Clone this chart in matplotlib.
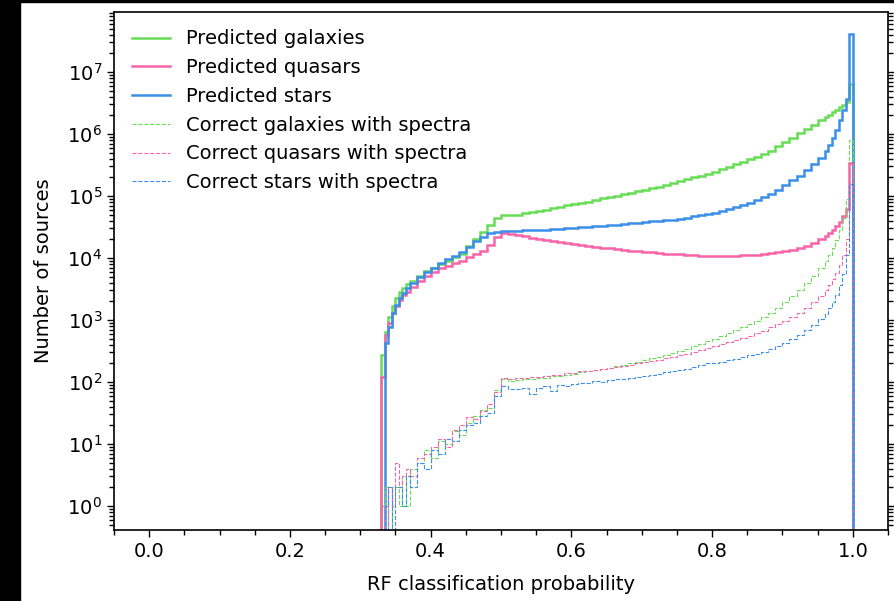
import numpy as np
import matplotlib
matplotlib.use("Agg")
import matplotlib.pyplot as plt
from matplotlib.lines import Line2D
from matplotlib.patches import Rectangle
from matplotlib.ticker import AutoMinorLocator

# bin edges: fine near 1/3 and near 1, coarser in between
edges = np.round(np.concatenate([np.linspace(0.33, 0.365, 8),
                                 np.linspace(0.37, 0.95, 59),
                                 np.linspace(0.96, 1.0, 9)]), 3)

# predicted classes (solid)
gal_pred = [270, 650, 1100, 1700, 2300, 2800, 3300, 3800,
            4300, 5200, 6100, 7000, 8000, 9000, 10200, 11800, 15500, 20000, 26000, 34000, 44000, 48500, 50000,
            50100, 52500, 55000, 57500, 60300, 63100, 67600, 70800, 74100, 77600, 81300, 85100, 91200, 95500,
            100000, 107000, 112000, 120000, 126000, 135000, 141000, 151000, 162000, 174000, 186000, 200000,
            214000, 229000, 245000, 269000, 295000, 324000, 355000, 389000, 427000, 479000, 537000, 631000,
            741000, 871000, 1020000, 1200000, 1410000, 1660000,
            1860000, 2040000, 2240000, 2450000, 2690000, 2950000, 3310000, 6300000]
qso_pred = [120, 570, 900, 1300, 1700, 2100, 2500, 2800,
            3400, 4300, 5100, 6000, 6800, 7500, 8300, 9100, 10200, 11500, 13000, 16000, 22000, 25500, 24500,
            23400, 22400, 21400, 20400, 19500, 18600, 17800, 17200, 16600, 16000, 15500, 15100, 14600, 14300,
            13800, 13500, 13200, 12900, 12600, 12300, 12000, 11700, 11500, 11400, 11100, 11000, 10800, 10700,
            10700, 10700, 10700, 10800, 11000, 11100, 11200, 11500, 11900, 12300, 12900, 13600, 14600, 15800,
            17600, 20000,
            22400, 25100, 28200, 32400, 38000, 46800, 61700, 339000]
star_pred = [0, 425, 770, 1300, 1750, 2250, 2700, 3300,
             4000, 4900, 5900, 7000, 8300, 9500, 10800, 12500, 15000, 18500, 22000, 25000, 26500, 27000, 27200,
             27500, 27900, 28200, 28500, 28800, 29500, 29900, 30200, 30900, 31300, 31600, 32400, 33100, 33900,
             34700, 35500, 36300, 37200, 38000, 38900, 39800, 40700, 41700, 43200, 44700, 46800, 49000, 51300,
             53700, 57500, 61700, 66100, 70800, 77600, 85100, 95500, 107000, 126000, 148000, 178000, 214000,
             263000, 324000, 407000,
             525000, 661000, 851000, 1150000, 1700000, 2450000, 3720000, 40700000]

# correctly classified sources with spectra (dashed)
gal_spec = [1, 2, 0, 2, 2, 1, 3, 1,
            4, 5, 8, 6, 11, 10, 16, 14, 22, 28, 35, 38, 75, 110, 105,
            107, 112, 110, 117, 115, 123, 126, 132, 135, 145, 148, 155, 162, 170, 178, 186, 200, 209, 224,
            240, 257, 275, 295, 316, 347, 380, 417, 457, 501, 550, 617, 692, 776, 871, 977, 1120, 1320, 1580,
            1950, 2400, 3020, 3890, 5130, 6920,
            8910, 11200, 14500, 19500, 28200, 44700, 89100, 794000]
qso_spec = [1, 0, 2, 1, 5, 2, 3, 4,
            3, 6, 7, 9, 12, 9, 17, 20, 27, 25, 34, 45, 70, 115, 110,
            115, 117, 120, 120, 126, 129, 132, 138, 141, 148, 151, 158, 162, 170, 174, 182, 191, 200, 209,
            219, 229, 240, 257, 269, 288, 309, 331, 355, 380, 407, 437, 468, 513, 562, 617, 676, 759, 851,
            977, 1120, 1320, 1580, 1950, 2450,
            3020, 3720, 4570, 5750, 7590, 11000, 20000, 339000]
star_spec = [0, 1, 2, 0, 2, 2, 1, 3,
             2, 5, 4, 8, 7, 12, 11, 17, 20, 22, 28, 32, 60, 85, 78,
             76, 79, 63, 81, 85, 72, 89, 87, 93, 95, 98, 102, 100, 107, 112, 110, 115, 120, 123, 129, 135,
             145, 151, 155, 162, 174, 186, 200, 200, 214, 224, 234, 251, 269, 288, 309, 339, 380, 427, 490,
             575, 692, 832, 1050,
             1260, 1550, 1950, 2570, 3630, 5620, 11200, 158000]

labels = ["Predicted galaxies", "Predicted quasars", "Predicted stars",
          "Correct galaxies with spectra", "Correct quasars with spectra", "Correct stars with spectra"]
c_gal, c_qso, c_star = "#66dd55", "#f764a8", "#3a8fe8"

plt.rcParams["font.size"] = 14
fig = plt.figure(figsize=(8.94, 6.01), dpi=100)
ax = fig.add_axes([114/894, 1-530/601, 774/894, 518/601])
ax.set_yscale("log")

series = [(gal_pred, c_gal, "-", 1.8), (qso_pred, c_qso, "-", 1.8), (star_pred, c_star, "-", 1.8),
          (gal_spec, c_gal, "--", 0.8), (qso_spec, c_qso, "--", 0.8), (star_spec, c_star, "--", 0.8)]
handles = []
for (vals, col, ls, lw), lab in zip(series, labels):
    ax.stairs(np.array(vals, dtype=float), edges, color=col, linestyle=ls, linewidth=lw, baseline=0)
    handles.append(Line2D([], [], color=col, linestyle=ls, linewidth=lw, label=lab))

ax.set_xlim(-0.05, 1.05)
ax.set_ylim(10**-0.387, 10**7.968)
ax.xaxis.set_minor_locator(AutoMinorLocator(4))
ax.tick_params(which="both", right=True, width=1)
ax.tick_params(which="major", length=5)
ax.tick_params(which="minor", length=3.5)
for s in ax.spines.values():
    s.set_linewidth(1.2)

ax.set_xlabel("RF classification probability", labelpad=10)
ax.set_ylabel("Number of sources", labelpad=10)
ax.legend(handles=handles, loc="upper left", frameon=False, handlelength=2.0,
          handletextpad=0.8, labelspacing=0.5, borderaxespad=0.5)

# dark screenshot border on the left and top
fig.patches.append(Rectangle((0, 0), 20/894, 1, transform=fig.transFigure, color="black", zorder=10))
fig.patches.append(Rectangle((0, 1-2/601), 1, 2/601, transform=fig.transFigure, color="black", zorder=10))

fig.savefig("out.png", dpi=100)
